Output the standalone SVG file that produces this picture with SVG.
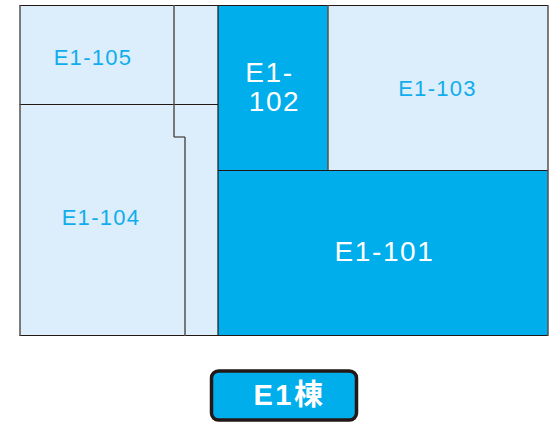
<svg xmlns="http://www.w3.org/2000/svg" width="556" height="428" viewBox="0 0 556 428">
<style>
.l{fill:#dcedfb}.d{fill:#00aeec}
.w{stroke:#231815;stroke-width:1.200;fill:none}
.g{stroke:#55514f;stroke-width:1.500;fill:none}
text{font-family:"Liberation Sans",sans-serif;text-anchor:middle}
.tl{fill:#0fadec;font-size:22px;letter-spacing:1.300px}
.tw{fill:#fff;font-size:28px;letter-spacing:1.600px}
</style>
<rect width="556" height="428" fill="#fff"/>
<g id="corridor"><rect class="l" x="174" y="5.500" width="44" height="330"/></g>
<g id="E1-105"><rect class="l" x="20" y="5.500" width="154" height="99"/><text class="tl" x="93" y="65">E1-105</text></g>
<g id="E1-104"><path class="l" d="M20 104.500H174V137H185V335.500H20Z"/><text class="tl" x="101" y="225">E1-104</text></g>
<g id="E1-102"><rect class="d" x="218" y="5.500" width="110" height="165"/><text class="tw"><tspan x="269.500" y="82">E1-</tspan><tspan x="274.500" y="111">102</tspan></text></g>
<g id="E1-103"><rect class="l" x="328" y="5.500" width="220" height="165"/><text class="tl" x="437.500" y="96">E1-103</text></g>
<g id="E1-101"><rect class="d" x="218" y="170.500" width="330" height="165"/><text class="tw" x="384.500" y="261">E1-101</text></g>
<g id="walls">
<path class="w" d="M19.500 5.500H548M19.500 104.500H218M218 170.500H548M19.500 335.500H548M218 5.500V335.500M174 137H185"/>
<path class="g" d="M20 5V336M548 5V336M174 5V137M185 137V336M328 5V170"/>
</g>
<g id="E1-label"><rect x="211.500" y="371" width="145" height="49" rx="7" fill="#00aeec" stroke="#231815" stroke-width="3.500"/><text x="289.500" y="405" fill="#fff" font-size="29" font-weight="700" style="font-family:'Liberation Sans','Noto Sans CJK JP',sans-serif;letter-spacing:2.500px">E1棟</text></g>
</svg>
